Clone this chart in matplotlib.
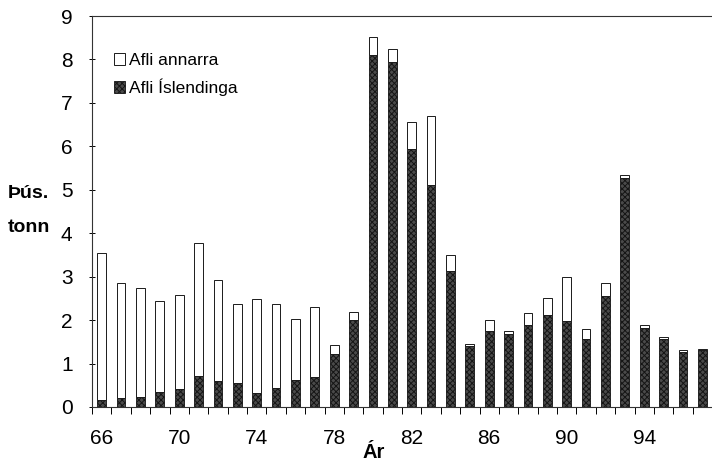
import numpy as np
import matplotlib.pyplot as plt
import matplotlib as mpl

mpl.rcParams['font.family'] = ['Liberation Sans', 'DejaVu Sans']
mpl.rcParams['hatch.linewidth'] = 0.7

# Data (thousand tonnes)
years = list(range(66, 98))
total = [3.54, 2.85, 2.74, 2.45, 2.57, 3.77, 2.92, 2.37, 2.48, 2.37,
         2.03, 2.31, 1.43, 2.19, 8.51, 8.23, 6.56, 6.69, 3.49, 1.46,
         2.01, 1.75, 2.16, 2.51, 2.99, 1.80, 2.85, 5.33, 1.89, 1.61,
         1.32, 1.33]
icelandic = [0.15, 0.20, 0.22, 0.35, 0.41, 0.72, 0.59, 0.55, 0.32, 0.44,
             0.63, 0.70, 1.23, 2.00, 8.10, 7.95, 5.94, 5.11, 3.12, 1.40,
             1.76, 1.67, 1.88, 2.11, 1.98, 1.57, 2.55, 5.27, 1.82, 1.56,
             1.27, 1.31]
others = [t - i for t, i in zip(total, icelandic)]
xtick_years = [66, 70, 74, 78, 82, 86, 90, 94]

fig = plt.figure(figsize=(7.12, 4.63), dpi=100)
ax = fig.add_axes([92 / 712, 1 - 407 / 463, 1 - 92 / 712, (407 - 16) / 463])

bar_w = 0.45
ax.bar(years, icelandic, width=bar_w, color='#4a4a4a', edgecolor='#151515',
       hatch='xxxxxx', linewidth=0.6, label='Afli Íslendinga', zorder=2)
ax.bar(years, others, width=bar_w, bottom=icelandic, color='white',
       edgecolor='#1a1a1a', linewidth=0.7, label='Afli annarra', zorder=2)

ax.set_xlim(65.64, 97.27)
ax.set_ylim(0, 9)
ax.set_yticks(range(0, 10))
ax.set_xticks(xtick_years)
ax.set_xticklabels([str(y) for y in xtick_years])
ax.set_xticks([y + 0.5 for y in range(65, 98)], minor=True)

ax.tick_params(axis='x', which='major', length=0, pad=16, labelsize=15)
ax.tick_params(axis='x', which='minor', length=5, direction='out', width=0.7)
ax.tick_params(axis='y', length=4, direction='inout', width=0.7, pad=12, labelsize=15)

ax.spines['right'].set_visible(False)
for s in ['left', 'bottom', 'top']:
    ax.spines[s].set_linewidth(0.8)
    ax.spines[s].set_color('#333333')

# legend: white first, then dark
handles, labels = ax.get_legend_handles_labels()
leg = ax.legend(handles[::-1], labels[::-1], loc='upper left',
                bbox_to_anchor=(0.01, 0.945), frameon=False, fontsize=12.5,
                handlelength=0.65, handleheight=0.65, handletextpad=0.2,
                labelspacing=0.6)

fig.text(8 / 712, 1 - 194 / 463, 'Þús.', fontsize=14, fontweight='bold',
         ha='left', va='center')
fig.text(8 / 712, 1 - 228 / 463, 'tonn', fontsize=14, fontweight='bold',
         ha='left', va='center')
fig.text(374 / 712, 1 - 453 / 463, 'Ár', fontsize=14.5, fontweight='bold',
         ha='center', va='center')

fig.savefig('out.png', dpi=100, facecolor='white')
